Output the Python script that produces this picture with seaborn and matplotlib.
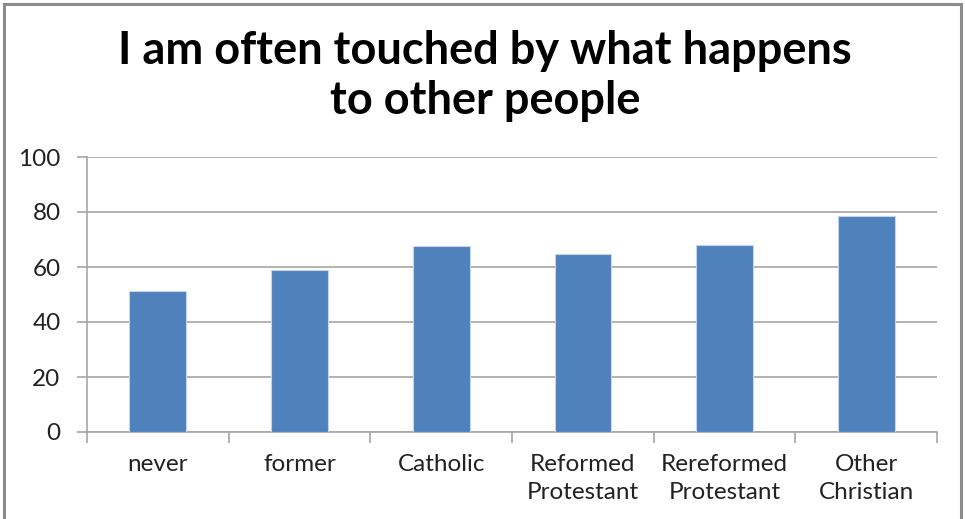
import matplotlib
matplotlib.use("Agg")
import matplotlib.pyplot as plt
import seaborn as sns
import pandas as pd
from matplotlib.patches import Rectangle

categories = ["never", "former", "Catholic", "Reformed\nProtestant",
              "Rereformed\nProtestant", "Other\nChristian"]
values = [51.3, 59.0, 67.5, 64.6, 67.9, 78.5]
y_ticks = [0, 20, 40, 60, 80, 100]
title = "I am often touched by what happens\nto other people"

df = pd.DataFrame({"group": categories, "score": values})

sns.set_theme(style="white")
plt.rcParams["font.family"] = ["Lato", "DejaVu Sans"]

W, H = 965, 519
fig = plt.figure(figsize=(W / 100, H / 100), dpi=100)
fig.patch.set_facecolor("white")

ax = fig.add_axes([87 / W, 1 - 432 / H, (937 - 87) / W, (432 - 157) / H])
sns.barplot(data=df, x="group", y="score", color="#4F81BD", width=0.4,
            saturation=1, ax=ax, edgecolor="#C5D5EA", linewidth=0.8, zorder=3)

grid_col = "#A6A6A6"
ax.set_ylim(0, 100)
ax.set_xlim(-0.5, len(categories) - 0.5)
ax.set_yticks(y_ticks)
ax.set_yticklabels([str(v) for v in y_ticks], fontsize=17.5, color="#222222")
ax.yaxis.grid(True, color=grid_col, linewidth=1.2, zorder=0)
ax.set_axisbelow(True)
ax.tick_params(axis="y", length=7, color=grid_col, width=1.2, pad=12, left=True)

# x ticks at category boundaries, labels centered between them
ax.set_xticks([i - 0.5 for i in range(len(categories) + 1)])
ax.set_xticklabels([])
ax.set_xticks(range(len(categories)), minor=True)
ax.set_xticklabels(categories, minor=True, fontsize=17.5, color="#222222",
                   linespacing=1.38, va="top")
ax.tick_params(axis="x", which="major", length=8, color=grid_col, width=1.2,
               bottom=True)
ax.tick_params(axis="x", which="minor", length=0, pad=16)
ax.set_xlabel("")
ax.set_ylabel("")

for side in ["top", "right"]:
    ax.spines[side].set_visible(False)
for side in ["left", "bottom"]:
    ax.spines[side].set_visible(True)
    ax.spines[side].set_color(grid_col)
    ax.spines[side].set_linewidth(1.2)

fig.text(485 / W, 1 - 76 / H, title, ha="center", va="center", fontsize=32.5,
         fontweight="bold", color="black", linespacing=1.24)

# chart frame
fig.patches.append(Rectangle((3.5 / W, -0.05), (961 - 3.5) / W, 1.05 - 3.5 / H,
                             transform=fig.transFigure, fill=False,
                             edgecolor="#8C8C8C", linewidth=2.2))
fig.patches.append(Rectangle((960.5 / W, -0.05), 2.5 / W, 1.05 - 5 / H,
                             transform=fig.transFigure, fill=True,
                             facecolor="#8C8C8C", edgecolor="none"))

fig.savefig("out.png", dpi=100)
